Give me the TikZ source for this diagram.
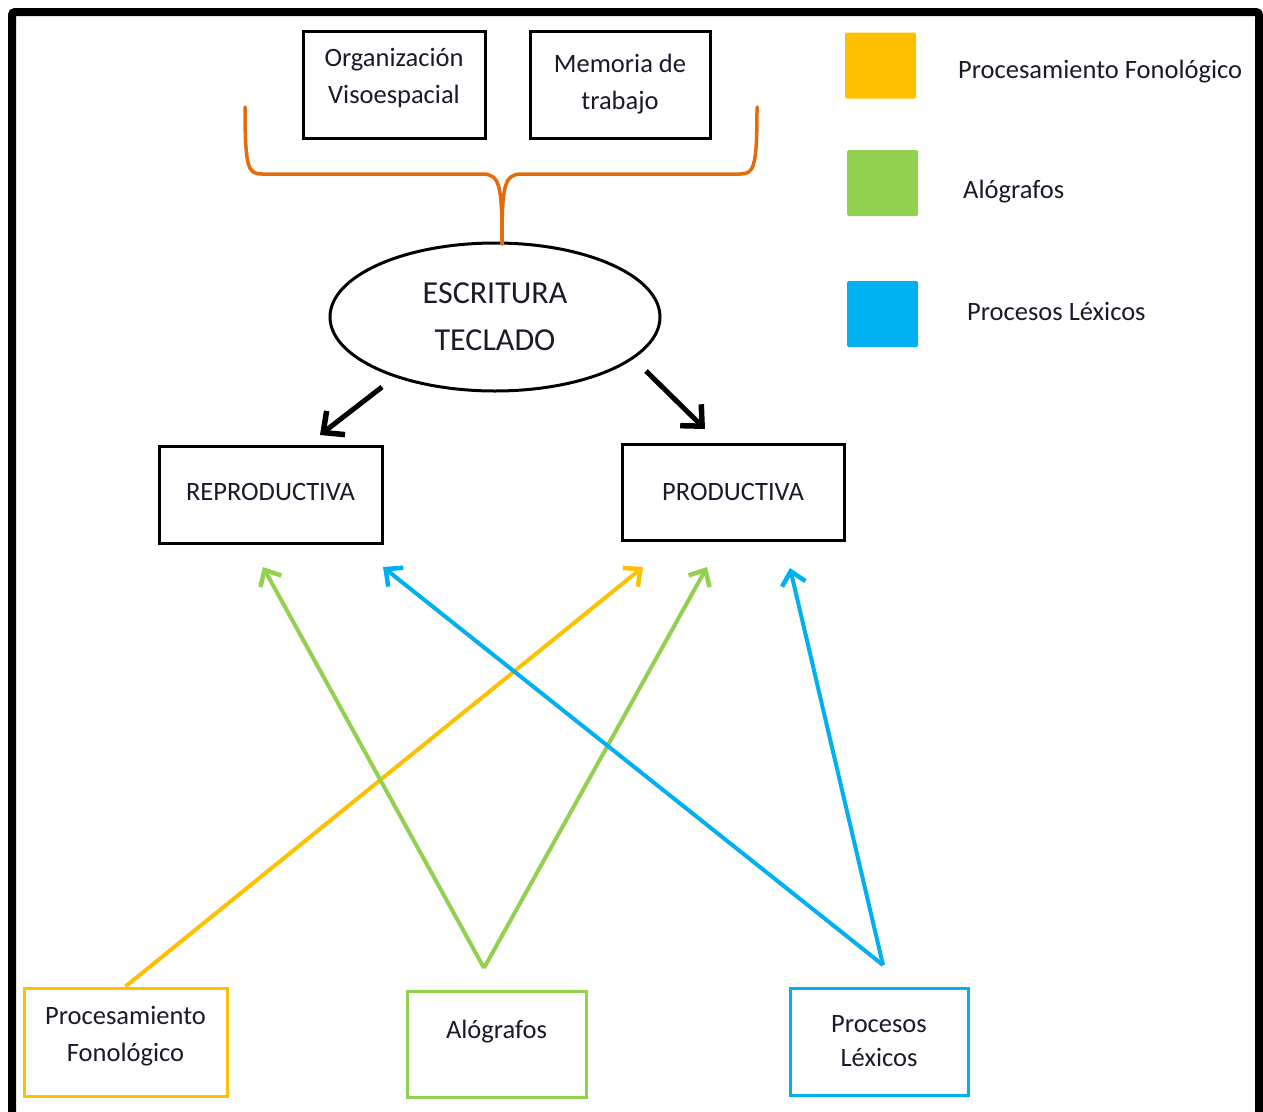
\documentclass[tikz,border=0pt]{standalone}
\usepackage{fontspec}
\setmainfont{Carlito}
\usetikzlibrary{arrows.meta,shapes.geometric}
\definecolor{cor}{HTML}{FFC000}
\definecolor{cgr}{HTML}{92D050}
\definecolor{cbl}{HTML}{00B0F0}
\definecolor{cbr}{HTML}{E46C0A}
\definecolor{txt}{HTML}{1A1A2A}
\begin{document}
\begin{tikzpicture}[x=1pt,y=-1pt,
  every node/.style={font=\fontsize{26.5}{37}\selectfont, text=txt, align=center},
  bx/.style={draw, line width=3pt, inner sep=0pt},
  legsq/.style={rounded corners=1.5pt, inner sep=0pt, minimum width=71pt, minimum height=66pt},
  legtx/.style={anchor=west, inner sep=0pt},
  blk/.style={line width=5pt, -{Straight Barb[length=16pt,width=30pt,line width=5.5pt]}},
  carr/.style={line width=4pt, -{Straight Barb[length=13pt,width=24pt,line width=4.5pt]}}]
\useasboundingbox (0,0) rectangle (1263,1111);
\fill[white] (0,0) rectangle (1263,1111);
% frame
\draw[line width=8pt, rounded corners=3pt] (12,12) rectangle (1259,1130);
% top boxes
\node[bx, minimum width=182pt, minimum height=107pt, text depth=17pt] (org) at (394,84.5) {Organización\\Visoespacial};
\node[bx, minimum width=180pt, minimum height=107pt] (mem) at (620,84.5) {Memoria de\\trabajo};
% ellipse
\node[draw, ellipse, line width=3pt, minimum width=330pt, minimum height=148pt, inner sep=0pt,
      font=\fontsize{32}{47}\selectfont] (esc) at (495,317) {ESCRITURA\\TECLADO};
% brace
\coordinate (tip) at (502,244);
\draw[cbr, line width=3.5pt, line cap=round]
  (245,107) .. controls (245,168) and (248,174) .. (262,174) -- (482,174)
  .. controls (500,174) and (502,185) .. (tip);
\draw[cbr, line width=3.5pt, line cap=round]
  (757,107) .. controls (757,168) and (754,174) .. (740,174) -- (522,174)
  .. controls (504,174) and (502,185) .. (tip);
% middle boxes
\node[bx, minimum width=223pt, minimum height=97pt, text depth=5pt] (rep) at (270.5,494.5) {REPRODUCTIVA};
\node[bx, minimum width=222pt, minimum height=96pt] (pro) at (733,492) {PRODUCTIVA};
% black arrows
\coordinate (b1s) at (382,387);
\coordinate (b1e) at (320,435);
\coordinate (b2s) at (646,371);
\coordinate (b2e) at (705,429);
\draw[blk] (b1s) -- (b1e);
\draw[blk] (b2s) -- (b2e);
% legend
\node[legsq, fill=cor] (lor) at (880.5,65.5) {};
\node[legsq, fill=cgr] (lgr) at (882.5,183) {};
\node[legsq, fill=cbl] (lbl) at (882.5,314) {};
\node[legtx] (tor) at (958,72) {Procesamiento Fonológico};
\node[legtx] (tgr) at (963,192) {Alógrafos};
\node[legtx] (tbl) at (967,311) {Procesos Léxicos};
% bottom boxes
\node[bx, draw=cor, minimum width=203pt, minimum height=108pt, text depth=17pt] (fon) at (125.5,1042) {Procesamiento\\Fonológico};
\node[bx, draw=cgr, minimum width=179pt, minimum height=106pt, text depth=29pt] (alo) at (496.5,1044) {Alógrafos};
\node[bx, draw=cbl, minimum width=178pt, minimum height=107pt, font=\fontsize{26.5}{34}\selectfont] (lex) at (879,1041.5) {Procesos\\Léxicos};
% colored arrows
\coordinate (gs) at (484,968);
\coordinate (bs) at (883,965);
\coordinate (e1) at (643,567);
\coordinate (e2) at (263,567);
\coordinate (e3) at (707,567);
\coordinate (e4) at (383,567);
\coordinate (e5) at (790,568);
\draw[carr, cor] (fon.north) -- (e1);
\draw[carr, cgr] (gs) -- (e2);
\draw[carr, cgr] (gs) -- (e3);
\draw[carr, cbl] (bs) -- (e4);
\draw[carr, cbl] (bs) -- (e5);
\end{tikzpicture}
\end{document}
